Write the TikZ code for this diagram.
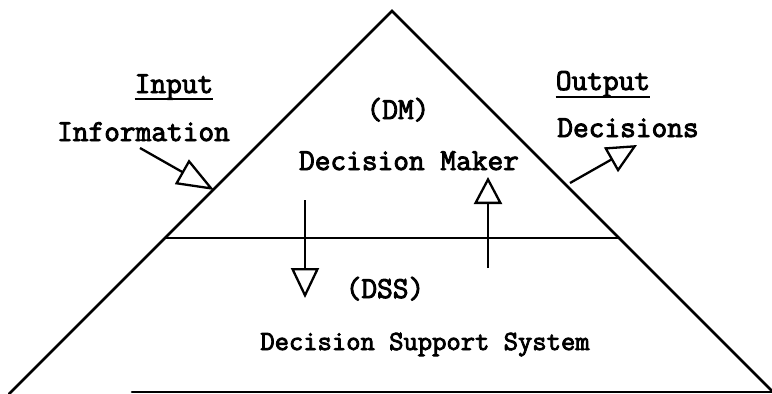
\documentclass[tikz,border=0pt]{standalone}
\usepackage{fontspec}
\setmonofont{Latin Modern Mono}[FakeBold=3]
\usetikzlibrary{arrows.meta}
\newcommand{\typesize}{\fontsize{30.5pt}{34pt}\selectfont\ttfamily}
\newcommand{\smalltype}{\fontsize{27.8pt}{32pt}\selectfont\ttfamily}
\begin{document}
\begin{tikzpicture}[x=1pt,y=-1pt,
  edge/.style={line width=2.6pt,line cap=round,line join=miter},
  label/.style={inner sep=0pt,anchor=base,font=\typesize},
  flow/.style={line width=2.3pt,line join=miter,
    -{Triangle[open,length=#1,width=28pt,line width=2.3pt]}},
  flow/.default=30pt,
  uline/.style={line width=2pt}]
\useasboundingbox (0,0) rectangle (772,394);

% pyramid outline
\coordinate (apex) at (392,11);
\coordinate (bl) at (9,394);
\coordinate (br) at (775,394);
\coordinate (bstart) at (132,392);
\coordinate (bend) at (772,392);
\draw[edge] (bl) -- (apex) -- (br);
\draw[edge] (bstart) -- (bend);

% boundary between decision maker and support system
\coordinate (mleft) at (165,238);
\coordinate (mright) at (619,238);
\draw[line width=2.2pt] (mleft) -- (mright);

% labels
\node[label] (inp) at (174,93) {Input};
\draw[uline] ([yshift=-6pt]inp.base west) -- ([yshift=-6pt]inp.base east);
\node[label] (info) at (143.5,141) {Information};
\node[label] (outp) at (603,90) {Output};
\draw[uline] ([yshift=-7pt]outp.base west) -- ([yshift=-7pt]outp.base east);
\node[label] (dec) at (628,137) {Decisions};
\node[label] (dm) at (398,119) {(DM)};
\node[label] (dmaker) at (409,170) {Decision Maker};
\node[label] (dss) at (385,298) {(DSS)};
\node[label,font=\smalltype] (dsys) at (425,350) {Decision Support System};

% information flowing in
\coordinate (inA) at (140,148);
\coordinate (inB) at (214,190);
\draw[flow=37pt] (inA) -- (inB);

% decisions flowing out
\coordinate (outA) at (570,183);
\coordinate (outB) at (637,145);
\draw[flow=30pt] (outA) -- (outB);

% exchange between DM and DSS
\coordinate (downA) at (305,200);
\coordinate (downB) at (305,298);
\draw[flow=30pt] (downA) -- (downB);
\coordinate (upA) at (488,268);
\coordinate (upB) at (488,177);
\draw[flow=27pt] (upA) -- (upB);
\end{tikzpicture}
\end{document}
